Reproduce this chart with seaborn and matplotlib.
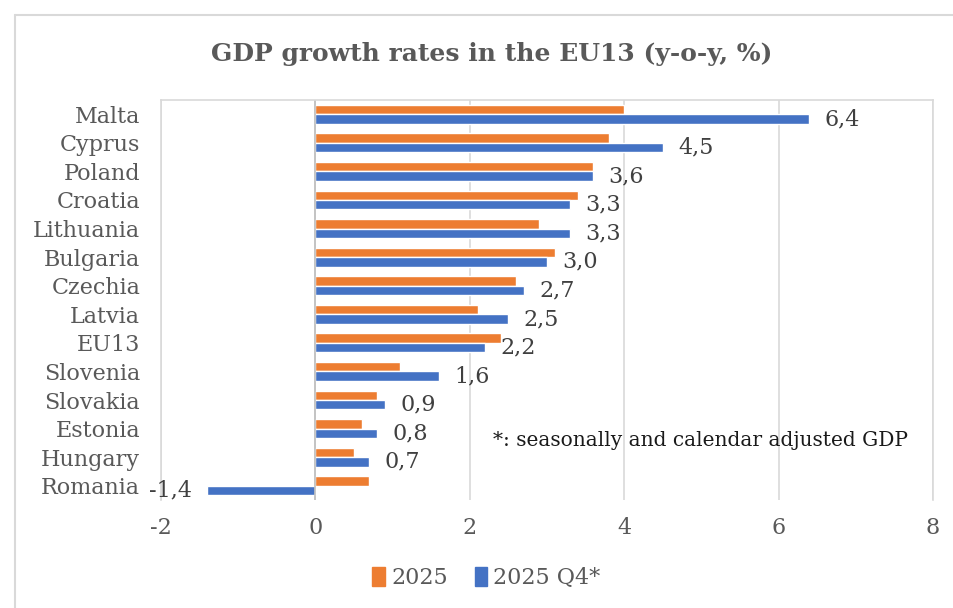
import matplotlib
matplotlib.use("Agg")
import matplotlib.pyplot as plt
from matplotlib.patches import Rectangle
import seaborn as sns
import pandas as pd

countries = ["Malta", "Cyprus", "Poland", "Croatia", "Lithuania", "Bulgaria",
             "Czechia", "Latvia", "EU13", "Slovenia", "Slovakia", "Estonia",
             "Hungary", "Romania"]
growth_2025 = [4.0, 3.8, 3.6, 3.4, 2.9, 3.1, 2.6, 2.1, 2.4, 1.1, 0.8, 0.6, 0.5, 0.7]
growth_2025_q4 = [6.4, 4.5, 3.6, 3.3, 3.3, 3.0, 2.7, 2.5, 2.2, 1.6, 0.9, 0.8, 0.7, -1.4]
series_names = ["2025", "2025 Q4*"]
x_ticks = [-2, 0, 2, 4, 6, 8]

df = pd.DataFrame({
    "country": countries * 2,
    "value": growth_2025 + growth_2025_q4,
    "series": [series_names[0]] * len(countries) + [series_names[1]] * len(countries),
})

sns.set_theme(style="white")
plt.rcParams["font.family"] = ["DejaVu Serif"]

text_grey = "#595959"
grid_grey = "#D9D9D9"
palette = {series_names[0]: "#ED7D31", series_names[1]: "#4472C4"}

fig = plt.figure(figsize=(9.54, 6.08), dpi=100)
ax = fig.add_axes([0.1688, 0.1776, 0.8092, 0.658])

sns.barplot(data=df, y="country", x="value", hue="series", order=countries,
            hue_order=series_names, palette=palette, orient="h", width=0.66,
            errorbar=None, ax=ax, legend=False, saturation=1)

ax.set_xlim(-2, 8)
ax.set_xticks(x_ticks)
ax.set_xticklabels([str(t) for t in x_ticks])
ax.grid(axis="x", color=grid_grey, linewidth=1.2)
ax.set_axisbelow(True)
ax.axvline(0, color="#BFBFBF", linewidth=1.2, zorder=1)
ax.set_xlabel("")
ax.set_ylabel("")
ax.tick_params(axis="both", length=0, labelsize=16, labelcolor=text_grey)
ax.tick_params(axis="x", pad=12)
ax.tick_params(axis="y", pad=15)

for side in ["top", "left", "right"]:
    ax.spines[side].set_color(grid_grey)
    ax.spines[side].set_linewidth(1.2)
ax.spines["bottom"].set_visible(False)

# Value labels on the quarterly series
q4_bars = ax.containers[1]
ax.bar_label(q4_bars, labels=[f"{v:.1f}".replace(".", ",") for v in growth_2025_q4],
             padding=11, fontsize=16, color="#404040")

fig.text(0.515, 0.912, "GDP growth rates in the EU13 (y-o-y, %)",
         ha="center", va="center", fontsize=18, fontweight="bold", color=text_grey)

ax.text(0.43, 0.15, "*: seasonally and calendar adjusted GDP",
        transform=ax.transAxes, ha="left", va="center", fontsize=14.5, color="#1A1A1A")

handles = [Rectangle((0, 0), 1, 1, color=palette[s]) for s in series_names]
fig.legend(handles, series_names, loc="center", bbox_to_anchor=(0.51, 0.049),
           ncol=2, frameon=False, fontsize=16, handlelength=0.55, handleheight=0.9,
           handletextpad=0.3, columnspacing=1.2, labelcolor=text_grey)

# Light outer frame of the chart area
fig.add_artist(plt.Line2D([0.0157, 0.0157], [0.0, 0.9753], color="#D9D9D9", linewidth=1.5))
fig.add_artist(plt.Line2D([0.0157, 1.0], [0.9753, 0.9753], color="#D9D9D9", linewidth=1.5))

fig.savefig("out.png", dpi=100, facecolor="white")
